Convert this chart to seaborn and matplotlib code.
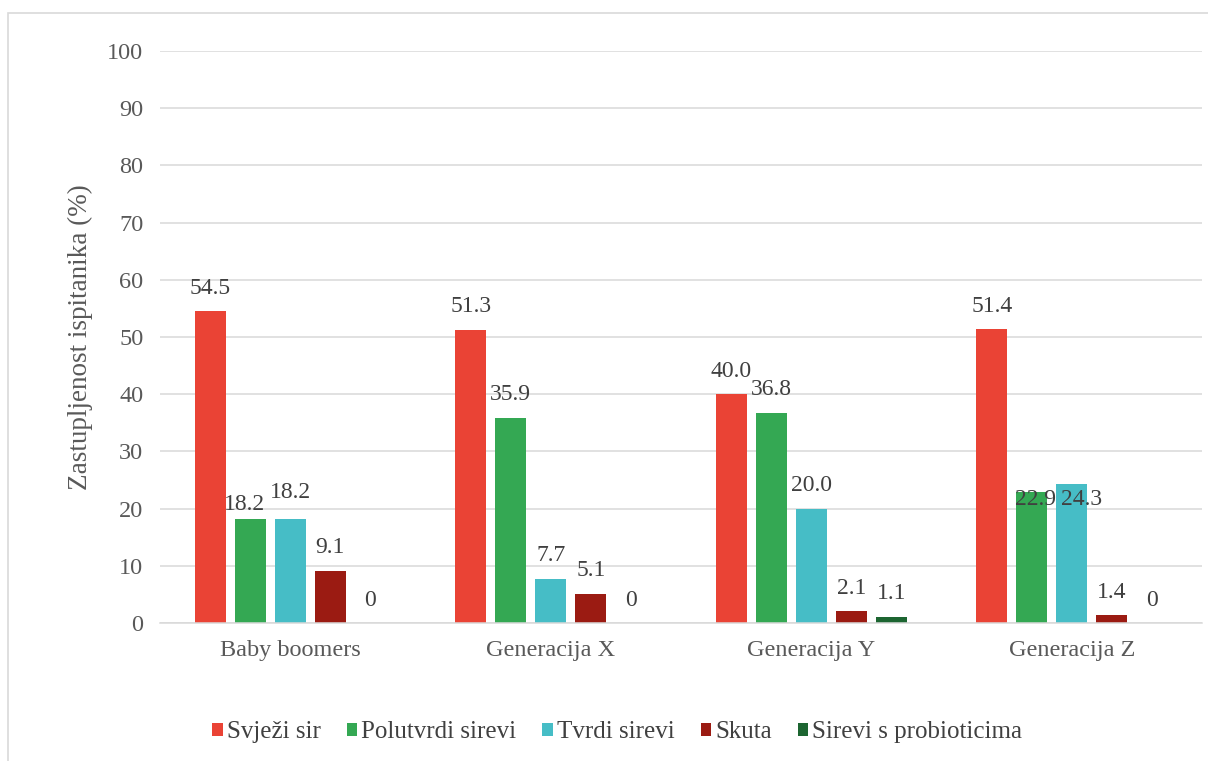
import pandas as pd
import matplotlib.pyplot as plt
import seaborn as sns
from matplotlib.patches import Rectangle

generacije = ['Baby boomers', 'Generacija X', 'Generacija Y', 'Generacija Z']
vrste_sira = ['Svježi sir', 'Polutvrdi sirevi', 'Tvrdi sirevi', 'Skuta', 'Sirevi s probioticima']

svjezi_sir = [54.5, 51.3, 40.0, 51.4]
polutvrdi = [18.2, 35.9, 36.8, 22.9]
tvrdi = [18.2, 7.7, 20.0, 24.3]
skuta = [9.1, 5.1, 2.1, 1.4]
probiotici = [0, 0, 1.1, 0]

boje = ['#EA4335', '#34A853', '#46BDC6', '#9B1B12', '#1C6531']

serije = [svjezi_sir, polutvrdi, tvrdi, skuta, probiotici]
rows = []
for vrsta, vrijednosti in zip(vrste_sira, serije):
    for gen, v in zip(generacije, vrijednosti):
        rows.append({'generacija': gen, 'vrsta': vrsta, 'udio': v})
df = pd.DataFrame(rows)

# Excel je razmaknuo oznake koje se preklapaju (pomak u px: x, y)
pomaci = {
    ('Polutvrdi sirevi', 'Baby boomers'): (-6, -9),
    ('Tvrdi sirevi', 'Baby boomers'): (0, 3),
    ('Polutvrdi sirevi', 'Generacija Z'): (4, -30),
    ('Tvrdi sirevi', 'Generacija Z'): (10, -38),
}

sns.set_style('white')
plt.rcParams['font.family'] = ['Liberation Serif', 'DejaVu Serif']

fig = plt.figure(figsize=(12.08, 7.61), dpi=100)
ax = fig.add_axes([0.1325, 0.1813, 0.8625, 0.7517])

sns.barplot(data=df, x='generacija', y='udio', hue='vrsta', order=generacije,
            hue_order=vrste_sira, palette=boje, width=0.768, gap=0.225,
            linewidth=0, saturation=1, ax=ax, legend=True)

padding = 9
for vrsta, cont in zip(vrste_sira, ax.containers):
    labels = ['0' if b.get_height() == 0 else f'{b.get_height():.1f}' for b in cont]
    anns = ax.bar_label(cont, labels=labels, padding=padding, fontsize=17, color='#404040')
    for gen, ann in zip(generacije, anns):
        if (vrsta, gen) in pomaci:
            dx, dy = pomaci[(vrsta, gen)]
            ann.xyann = (dx * 0.72, padding + dy * 0.72)

ax.set_ylim(0, 100)
ax.set_yticks(range(0, 101, 10))
ax.yaxis.grid(True, color='#d9d9d9', linewidth=1.1)
ax.set_axisbelow(True)
for s in ['top', 'right', 'left']:
    ax.spines[s].set_visible(False)
ax.spines['bottom'].set_color('#d9d9d9')
ax.spines['bottom'].set_linewidth(1.1)
ax.tick_params(axis='both', length=0, labelsize=17.5, labelcolor='#595959')
ax.tick_params(axis='y', pad=12)
ax.tick_params(axis='x', pad=12)
ax.set_xlabel('')
ax.set_ylabel('Zastupljenost ispitanika (%)', fontsize=19.5, color='#595959', labelpad=10)

handles, labels = ax.get_legend_handles_labels()
ax.get_legend().remove()
fig.legend(handles, labels, loc='center', bbox_to_anchor=(0.511, 1 - 732 / 761),
           ncol=5, frameon=False, fontsize=18, handlelength=0.42, handleheight=0.42,
           handletextpad=0.15, columnspacing=1.05, labelcolor='#404040')

fig.patches.append(Rectangle((8 / 1208, -0.05), 1.1, 1 - 13 / 761 + 0.05,
                             transform=fig.transFigure, fill=False,
                             edgecolor='#d9d9d9', linewidth=1.2))

plt.savefig('out.png', dpi=100)
